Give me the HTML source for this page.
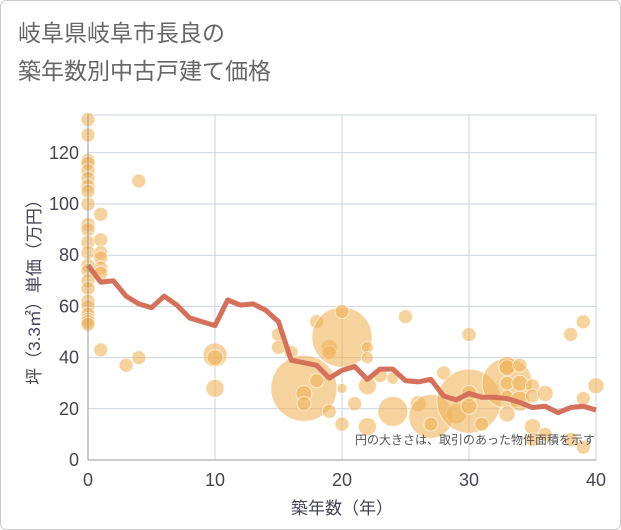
<!DOCTYPE html>
<html><head><meta charset="utf-8"><style>
body{margin:0;background:#fff;font-family:"Liberation Sans","Noto Sans CJK JP",sans-serif}
#wrap{position:relative;width:619px;height:528px;border:1px solid #ccc;border-radius:6px;overflow:hidden}
</style></head><body>
<div id="wrap">
<svg id="chart" width="621" height="530" style="position:absolute;left:-1px;top:-1px">
<text x="18" y="41" font-size="23" fill="#666">岐阜県岐阜市長良の</text>
<text x="18" y="79" font-size="23" fill="#666">築年数別中古戸建て価格</text>
<g id="grid"></g><g id="bubbles"></g><g id="line"></g><g id="axes"></g>
<text x="595" y="444" font-size="12" fill="#555" text-anchor="end">円の大きさは、取引のあった物件面積を示す</text>
<text x="342" y="514" font-size="17" fill="#445" text-anchor="middle">築年数（年）</text>
<text transform="translate(40,288) rotate(-90)" font-size="17" fill="#445" text-anchor="middle">坪（3.3㎡）単価（万円）</text>
</svg></div>
<script>
const xTicks=[0,10,20,30,40];
const yTicks=[0,20,40,60,80,100,120];
const lineYears=[0,1,2,3,4,5,6,7,8,9,10,11,12,13,14,15,16,17,18,19,20,21,22,23,24,25,26,27,28,29,30,31,32,33,34,35,36,37,38,39,40];
const linePrices=[76,69.5,70,64,61,59.5,64,60.5,55.5,54,52.5,62.5,60.5,61,58.5,54,39,38,37,32,35,36.5,31.5,35.5,35.5,31,30.5,31.5,25,23.5,26,24.5,24.5,24,22.5,20.5,21,18.5,20.5,21,19.5];
const bubbleYears=[0,0,0,0,0,0,0,0,0,0,0,0,0,0,0,0,0,0,0,0,0,0,0,1,1,1,1,1,1,1,3,4,4,10,10,10,15,15,16,17,17,17,18,18,19,19,19,20,20,20,20,21,22,22,22,22,23,24,24,25,26,27,27,28,29,30,30,30,30,31,33,33,33,33,33,33,34,34,34,35,35,35,35,36,36,38,38,39,39,39,40];
const bubblePrices=[133,127,117,116,113,110,107,105,100,92,90,85,81,76,74,70,67,62,60,57,55,54,53,96,86,81,79,75,73,43,37,109,40,41,40,28,49,44,42,28,26,22,54,31,44,42,19,48,58,28,14,22,44,40,29,13,33,19,32,56,22,17,14,34,18,23,26,21,49,14,30,37,36,30,25,18,37,30,23,29,25,13,8,10,26,49,8,54,24,5,29];
const bubbleRadii=[7,7,7,7,7,7,7,7,7,7,7,7,7,7,7,7,7,7,7,7,7,7,7,7,7,7,7,7,7,7,7,7,7,12,8,9,7,7,7,33,8,7,7,7,8,7,7,30,7,5,7,7,6,6,9,9,7,15,6,7,8,22,7,7,10,32,8,8,7,7,25,9,8,7,6,8,7,8,10,7,7,8,7,7,8,7,7,7,7,7,8];
const NS="http://www.w3.org/2000/svg";
const X0=88,X1=596,Y0=460,YTOP=115;
const sx=v=>X0+(X1-X0)*v/40;
const sy=v=>Y0-(51.2/20)*v;
function mk(t,a,p){const e=document.createElementNS(NS,t);for(const k in a)e.setAttribute(k,a[k]);p.appendChild(e);return e;}
const grid=document.getElementById('grid'),axes=document.getElementById('axes');
mk('rect',{x:X0,y:YTOP,width:X1-X0,height:Y0-YTOP,fill:'#fff',stroke:'#c9d3df'},grid);
yTicks.forEach(v=>{const l=mk('line',{x1:X0,x2:X1,y1:sy(v),y2:sy(v),stroke:'#c9d3df'},grid);


const t=mk('text',{x:X0-9,y:sy(v)+6,'font-size':18,fill:'#445','text-anchor':'end'},axes);t.textContent=v;

});
xTicks.forEach(v=>{const l=mk('line',{x1:sx(v),x2:sx(v),y1:YTOP,y2:Y0,stroke:'#c9d3df'},grid);


const t=mk('text',{x:sx(v),y:Y0+26,'font-size':18,fill:'#445','text-anchor':'middle'},axes);t.textContent=v;

});
mk('line',{x1:X0,x2:X0,y1:YTOP,y2:Y0,stroke:'#999'},axes);
mk('line',{x1:X0,x2:X1,y1:Y0,y2:Y0,stroke:'#999'},axes);
const bg=document.getElementById('bubbles');
bubbleYears.forEach((yr,i)=>{const c=mk('circle',{cx:sx(yr),cy:sy(bubblePrices[i]),r:bubbleRadii[i],fill:'rgba(240,180,90,0.6)',stroke:'rgba(255,255,255,0.6)','stroke-width':1},bg);

});
const pl=mk('polyline',{points:lineYears.map((y,i)=>sx(y)+','+sy(linePrices[i])).join(' '),fill:'none',stroke:'#d5705a','stroke-width':5,'stroke-linejoin':'round'},document.getElementById('line'));


</script></body></html>
